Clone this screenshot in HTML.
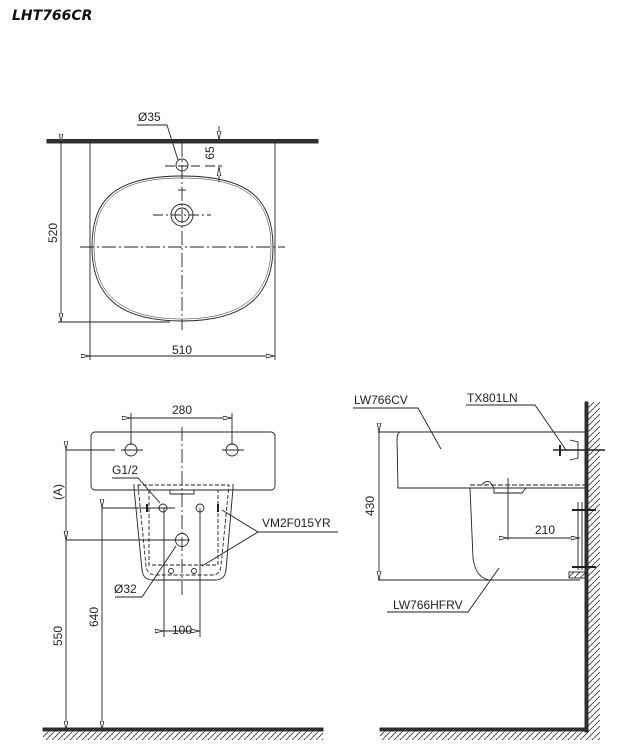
<!DOCTYPE html>
<html><head><meta charset="utf-8"><style>
html,body{margin:0;padding:0;background:#fff;}
svg{display:block;}
text{font-family:"Liberation Sans",sans-serif;font-size:12px;fill:#222;}
</style></head><body>
<svg width="635" height="754" viewBox="0 0 635 754" xmlns="http://www.w3.org/2000/svg">
<defs>
<pattern id="h" width="6" height="6" patternUnits="userSpaceOnUse"><path d="M0,6 L6,0" stroke="#333" stroke-width="0.8"/></pattern>
<marker id="a" markerWidth="9" markerHeight="6" refX="9" refY="3" orient="auto" markerUnits="userSpaceOnUse"><path d="M0,1.2 L9,3 L0,4.8 Z" fill="#fff" stroke="#222" stroke-width="0.8"/></marker>
</defs>
<text x="12" y="20" style="font-family:'DejaVu Sans',sans-serif;font-size:14px;font-weight:bold;font-style:italic;fill:#111">LHT766CR</text>

<g stroke="#222" stroke-width="0.9" fill="none">
<!-- TOP VIEW -->
<rect x="47" y="139.5" width="271" height="3.5" fill="#333"/>
<path d="M90,143 V322 M275,143 V360 M90,322 V360"/>
<path d="M182,176 C250,176 273,200 273,247 C273,300 240,321 182,321 C124,321 92,300 92,247 C92,200 114,176 182,176 Z"/>
<path d="M182,178 C248,178 271,201 271,247 C271,298 238,319 182,319 C126,319 94,298 94,247 C94,201 116,178 182,178 Z" stroke-width="0.5"/>
<path d="M80,247 H285" stroke-dasharray="14 3 2 3"/>
<path d="M182,143 V330" stroke-dasharray="14 3 2 3"/>
<circle cx="182" cy="165" r="6"/>
<path d="M165,166 H200 M205,166 H222" stroke-dasharray="10 3"/>
<path d="M178,190 H186"/>
<circle cx="182" cy="215" r="11"/><circle cx="182" cy="215" r="7"/>
<path d="M153,215 H211" stroke-dasharray="10 3 2 3"/>
<path d="M61,143 V322" marker-start="url(#a)" marker-end="url(#a)"/>
<path d="M58,322 H170"/>
<path d="M90,356 H275" marker-start="url(#a)" marker-end="url(#a)"/>
<path d="M137,125 H167 L178,160" />
<path d="M219,126 V140" marker-end="url(#a)"/>
<path d="M219,182 V167" marker-end="url(#a)"/>

<!-- FRONT VIEW -->
<rect x="91" y="432" width="184" height="58" rx="4"/>
<path d="M131,418 H232" marker-start="url(#a)" marker-end="url(#a)"/>
<path d="M131,413 V445 M232,413 V445"/>
<circle cx="131" cy="450" r="6"/><circle cx="232" cy="450" r="6"/>
<path d="M121,450 H143 M222,450 H244"/>
<path d="M182,427 V595" stroke-dasharray="14 3 2 3"/>
<path d="M134,484 V488 L142,570 Q143,580 153,580 H215 Q225,580 226,570 L233,488 V484"/>
<path d="M138,485 L146,566 Q147,575 156,575 H212 Q220,575 221,566 L229,485 Z" stroke-dasharray="4 2"/>
<path d="M149,490 V565 H218 V490" stroke-dasharray="4 2"/>
<path d="M170,490 V494 H194 V490"/>
<circle cx="163" cy="508" r="4"/><circle cx="200" cy="508" r="4"/>
<path d="M147,504 V512 M218,504 V512" stroke-width="2"/>
<circle cx="182" cy="540" r="6.5"/>
<circle cx="171" cy="571" r="2.5"/><circle cx="194" cy="571" r="2.5"/>
<path d="M164,508 V637 M200,508 V637"/>
<path d="M164,631 H200" marker-start="url(#a)" marker-end="url(#a)"/>
<path d="M66,450 H115 M66,540 H190 M102,508 H175"/>
<path d="M66,450 V540" marker-start="url(#a)" marker-end="url(#a)"/>
<path d="M66,540 V730" marker-start="url(#a)" marker-end="url(#a)"/>
<path d="M102,508 V730" marker-start="url(#a)" marker-end="url(#a)"/>
<path d="M112,478 H138 L160,503"/>
<path d="M115,597 H142 L176,546"/>
<path d="M338,532 H258 L222,510 M258,532 L202,566"/>
<rect x="43" y="728" width="280" height="3" fill="#333"/>
<rect x="43" y="731" width="280" height="9" fill="url(#h)" stroke="none"/>

<!-- SIDE VIEW -->
<rect x="585" y="402" width="3" height="330" fill="#333"/>
<rect x="588" y="402" width="12" height="338" fill="url(#h)" stroke="none"/>
<rect x="380" y="728" width="208" height="3" fill="#333"/>
<rect x="380" y="731" width="208" height="9" fill="url(#h)" stroke="none"/>
<path d="M378,432 H585"/>
<path d="M400,432 Q397,433 397,440 L398,488 H470"/>
<path d="M470,485 H585" stroke-dasharray="5 2"/>
<path d="M470,488 H585"/>
<path d="M470,488 L473,558 Q476,580 492,580"/>
<path d="M482,485 Q485,480 490,482 L494,488 V493 H522 L526,488"/>
<path d="M378,580 H580"/>
<path d="M379,432 V580" marker-start="url(#a)" marker-end="url(#a)"/>
<path d="M508,478 V540"/>
<path d="M508,538 H580" marker-start="url(#a)" marker-end="url(#a)"/>
<path d="M578,502 V570 M582,502 V570"/>
<path d="M572,510 H596 M572,567 H596" stroke-width="2"/>
<rect x="569" y="572" width="16" height="6" fill="url(#h)"/>
<path d="M553,450 H605" stroke-width="1.5"/>
<path d="M570,440 L578,442 V458 L570,460"/>
<path d="M560,445 V456" stroke-width="2"/>
<path d="M353,408 H418 L441,449"/>
<path d="M466,405 H535 L566,450"/>
<path d="M387,612 H468 L499,568"/>
</g>

<g>
<text x="138" y="121">Ø35</text>
<text x="182" y="354" text-anchor="middle">510</text>
<text transform="translate(57,233) rotate(-90)" text-anchor="middle">520</text>
<text transform="translate(214,153) rotate(-90)" text-anchor="middle">65</text>
<text x="182" y="414" text-anchor="middle">280</text>
<text x="112" y="474">G1/2</text>
<text x="114" y="593">Ø32</text>
<text x="262" y="527">VM2F015YR</text>
<text x="182" y="634" text-anchor="middle">100</text>
<text transform="translate(62,492) rotate(-90)" text-anchor="middle">(A)</text>
<text transform="translate(62,636) rotate(-90)" text-anchor="middle">550</text>
<text transform="translate(98,617) rotate(-90)" text-anchor="middle">640</text>
<text x="354" y="404">LW766CV</text>
<text x="467" y="402">TX801LN</text>
<text transform="translate(374,506) rotate(-90)" text-anchor="middle">430</text>
<text x="545" y="534" text-anchor="middle">210</text>
<text x="393" y="609">LW766HFRV</text>
</g>
</svg>
</body></html>
